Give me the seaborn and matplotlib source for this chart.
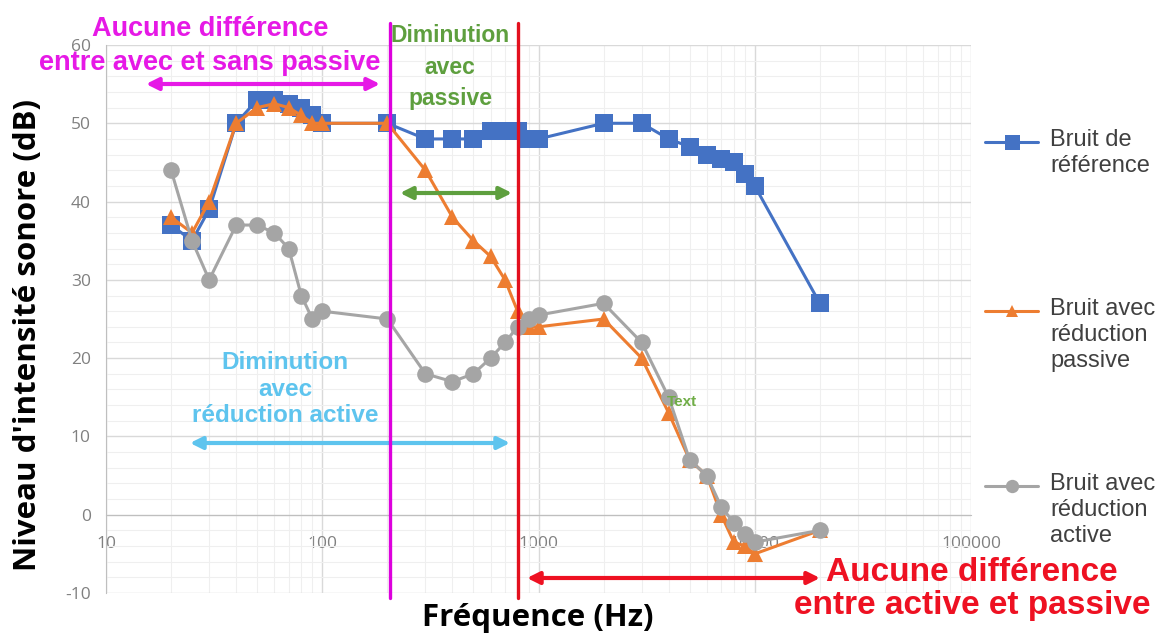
import numpy as np
import pandas as pd
import matplotlib
matplotlib.use("Agg")
import matplotlib.pyplot as plt
import seaborn as sns
from matplotlib.lines import Line2D
from matplotlib.ticker import LogLocator, MultipleLocator, NullFormatter, FixedLocator, FixedFormatter

# ---------------- data ----------------
freq = [20, 25, 30, 40, 50, 60, 70, 80, 90, 100, 200, 300, 400, 500, 600, 700, 800, 900,
        1000, 2000, 3000, 4000, 5000, 6000, 7000, 8000, 9000, 10000, 20000]
ref_db = [37, 35, 39, 50, 53, 53, 52.5, 52, 51, 50, 50, 48, 48, 48, 49, 49, 49, 48,
          48, 50, 50, 48, 47, 46, 45.5, 45, 43.5, 42, 27]
passive_db = [38, 36, 40, 50, 52, 52.5, 52, 51, 50, 50, 50, 44, 38, 35, 33, 30, 26, 24,
              24, 25, 20, 13, 7, 5, 0, -3.5, -4, -5, -2]
active_db = [44, 35, 30, 37, 37, 36, 34, 28, 25, 26, 25, 18, 17, 18, 20, 22, 24, 25,
             25.5, 27, 22, 15, 7, 5, 1, -1, -2.5, -3.5, -2]
series_names = ["Bruit de\nréférence", "Bruit avec\nréduction\npassive", "Bruit avec\nréduction\nactive"]
x_ticks = [10, 100, 1000, 10000, 100000]
x_tick_labels = ["10", "100", "1000", "10000", "100000"]
y_ticks = [-10, 0, 10, 20, 30, 40, 50, 60]
limit_passive = 205   # Hz, magenta line
limit_active = 800    # Hz, red line

df = pd.DataFrame({
    "freq": freq * 3,
    "db": ref_db + passive_db + active_db,
    "serie": [series_names[0]] * len(freq) + [series_names[1]] * len(freq) + [series_names[2]] * len(freq),
})

# ---------------- style ----------------
sns.set_style("white")
plt.rcParams["font.family"] = ["Open Sans", "DejaVu Sans"]
plt.rcParams["axes.unicode_minus"] = False

W, H = 1172, 636
fig = plt.figure(figsize=(W / 100, H / 100), dpi=100)
ax = fig.add_axes([106 / W, 43 / H, 865 / W, 548 / H])

def P(x, y):
    return (x / W, 1 - y / H)

colors = ["#4472C4", "#ED7D31", "#A5A5A5"]
markers = ["s", "^", "o"]
msizes = [13.5, 11.5, 12]

for i, name in enumerate(series_names):
    sns.lineplot(data=df[df["serie"] == name], x="freq", y="db", color=colors[i],
                 marker=markers[i], markersize=msizes[i], markeredgewidth=0,
                 linewidth=2.2, ax=ax, zorder=3 + i, legend=False, errorbar=None)

ax.set_xscale("log")
ax.set_xlim(10, 100000)
ax.set_ylim(-10, 60)
ax.set_xlabel("")
ax.set_ylabel("")

ax.xaxis.set_major_locator(FixedLocator(x_ticks))
ax.xaxis.set_major_formatter(FixedFormatter(x_tick_labels))
ax.xaxis.set_minor_locator(LogLocator(base=10, subs=np.arange(2, 10)))
ax.xaxis.set_minor_formatter(NullFormatter())
ax.set_yticks(y_ticks)
ax.yaxis.set_minor_locator(MultipleLocator(2))

ax.set_axisbelow(True)
ax.grid(which="major", color="#d9d9d9", lw=1.0)
ax.grid(which="minor", color="#efefef", lw=0.8)

for s in ["top", "right"]:
    ax.spines[s].set_visible(False)
ax.spines["left"].set_color("#bfbfbf")
ax.spines["bottom"].set_color("#bfbfbf")
ax.spines["bottom"].set_position(("data", 0))

ax.tick_params(axis="y", which="major", labelsize=12.5, labelcolor="#808080", color="#bfbfbf",
               length=5, pad=6)
ax.tick_params(axis="y", which="minor", length=0)
ax.tick_params(axis="x", which="both", length=0, pad=15, labelsize=12.5, labelcolor="#808080")

# axis titles
fig.text(*P(28, 335), "Niveau d'intensité sonore (dB)", rotation=90, ha="center", va="center",
         fontsize=22.5, fontweight="bold", color="black")
fig.text(*P(538, 618), "Fréquence (Hz)", ha="center", va="center",
         fontsize=22.5, fontweight="bold", color="black")

# vertical limit lines
ax.axvline(limit_passive, ymin=-0.009, ymax=1.04, color="#DD00DD", lw=2.4, clip_on=False, zorder=8)
ax.axvline(limit_active, ymin=-0.009, ymax=1.04, color="#E3101E", lw=2.4, clip_on=False, zorder=8)

tf = fig.transFigure
ann_font = ["Liberation Sans", "DejaVu Sans"]

def label(x, y, s, color, size, ls=1.2, z=7):
    ax.text(*P(x, y), s, transform=tf, ha="center", va="center", color=color, fontsize=size,
            fontweight="bold", family=ann_font, linespacing=ls, zorder=z, clip_on=False)

def darrow(x1, x2, y, color):
    ax.annotate("", xy=P(x2, y), xytext=P(x1, y), xycoords="figure fraction",
                textcoords="figure fraction",
                arrowprops=dict(arrowstyle="<|-|>", color=color, lw=3, mutation_scale=18,
                                shrinkA=0, shrinkB=0), zorder=7, annotation_clip=False)

magenta = "#E619E6"
green = "#5E9F3E"
lblue = "#5EC4EE"
red = "#EE1122"

label(210, 46, "Aucune différence\nentre avec et sans passive", magenta, 19.5, ls=1.4)
darrow(146, 380, 84, magenta)
label(450, 67, "Diminution\navec\npassive", green, 16.5, ls=1.45)
darrow(400, 512, 193, green)
label(285, 389, "Diminution\navec\nréduction active", lblue, 17.5, ls=1.2)
darrow(190, 510, 443, lblue)
darrow(527, 820, 578, red)
label(972, 589, "Aucune différence\nentre active et passive", red, 24, ls=1.12)
label(682, 402, "Text", "#70AD47", 11)

# legend (manual, right side)
leg_y = [142, 311, 486]
for i, name in enumerate(series_names):
    y = 1 - leg_y[i] / H
    fig.add_artist(Line2D([985 / W, 1038 / W], [y, y], color=colors[i], lw=2.2, transform=tf))
    fig.add_artist(Line2D([1011.5 / W], [y], color=colors[i], marker=markers[i],
                          markersize=msizes[i] * 0.8, markeredgewidth=0, transform=tf))
    fig.text(1050 / W, 1 - (leg_y[i] - 13) / H, name, ha="left", va="top", fontsize=17,
             family=ann_font, color="#404040", linespacing=1.25)

fig.savefig("out.png", dpi=100, facecolor="white")
